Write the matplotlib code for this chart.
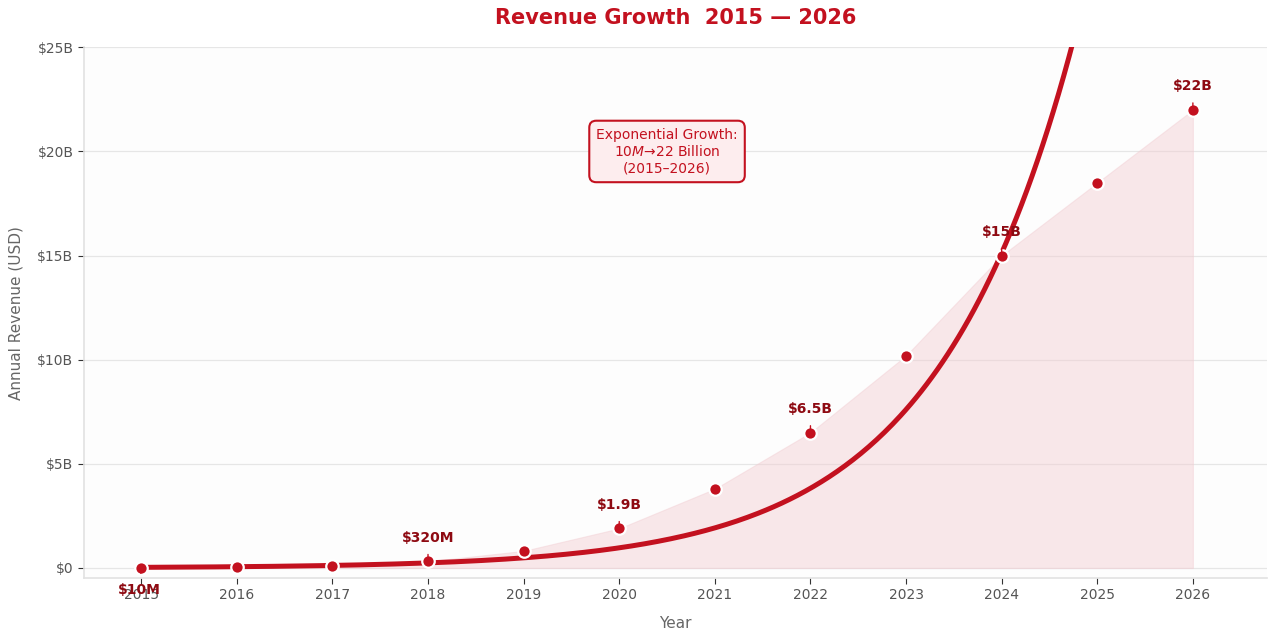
import numpy as np
import matplotlib
matplotlib.use("Agg")
import matplotlib.pyplot as plt

# 數據 (單位: 十億美元)
years = [2015, 2016, 2017, 2018, 2019, 2020, 2021, 2022, 2023, 2024, 2025, 2026]
revenue_b = [0.01, 0.05, 0.11, 0.32, 0.82, 1.9, 3.8, 6.5, 10.2, 15.0, 18.5, 22.0]
label_years = [2015, 2018, 2020, 2022, 2024, 2026]
label_texts = ["$10M", "$320M", "$1.9B", "$6.5B", "$15B", "$22B"]
y_ticks = [0, 5, 10, 15, 20, 25]
y_tick_labels = ["$0", "$5B", "$10B", "$15B", "$20B", "$25B"]

RED = "#C3111F"
DARK_RED = "#8E0A12"
GRAY = "#666666"

plt.rcParams["font.family"] = ["DejaVu Sans"]

fig, ax = plt.subplots(figsize=(12.7, 6.31), dpi=100)
fig.subplots_adjust(left=0.066, right=0.998, top=0.925, bottom=0.084)
ax.set_facecolor("#FDFDFD")

x = np.array(years, dtype=float)
y = np.array(revenue_b)

# 面積填充
ax.fill_between(x, 0, y, color="#F2CDD2", alpha=0.45, linewidth=0.8,
                edgecolor="#F2CDD2", zorder=1)

# 指數擬合曲線 (對數線性回歸)
b, a = np.polyfit(x - years[0], np.log(y), 1)
xf = np.linspace(years[0], years[-1], 400)
yf = np.exp(a + b * (xf - years[0]))
ax.plot(xf, yf, color=RED, linewidth=3.6, solid_capstyle="round", zorder=3)

# 數據點
ax.plot(x, y, linestyle="none", marker="o", markersize=9,
        markerfacecolor=RED, markeredgecolor="white", markeredgewidth=1.6, zorder=4)

# 數值標籤
for yr, txt in zip(label_years, label_texts):
    val = revenue_b[years.index(yr)]
    offset = (-1, -16) if yr == years[0] else (0, 17)
    ax.annotate(
        txt.replace("$", r"\$"),
        xy=(yr, val),
        xytext=offset,
        textcoords="offset points",
        ha="center",
        va="center",
        fontsize=10,
        fontweight="bold",
        color=DARK_RED,
        arrowprops=dict(arrowstyle="-", color=RED, lw=1, shrinkA=5, shrinkB=6),
        zorder=5,
    )

# 說明框
ax.text(
    2020.5, 20.0,
    "Exponential Growth:\n$10M→$22 Billion\n(2015–2026)",
    ha="center", va="center", fontsize=10, color=RED,
    bbox=dict(boxstyle="round,pad=0.5", facecolor="#FDEDEE", edgecolor=RED, linewidth=1.5),
    zorder=6,
)

ax.set_xlim(2014.4, 2026.78)
ax.set_ylim(-0.48, 25)
ax.set_xticks(years)
ax.set_yticks(y_ticks)
ax.set_yticklabels(y_tick_labels)
ax.tick_params(colors="#555555", labelsize=10)
ax.tick_params(axis="both", length=4, color="#333333")

ax.grid(True, axis="y", color="#E6E6E6", linewidth=0.9)
ax.set_axisbelow(True)
for s in ["top", "right"]:
    ax.spines[s].set_visible(False)
for s in ["left", "bottom"]:
    ax.spines[s].set_color("#E2E2E2")
    ax.spines[s].set_linewidth(1.2)

ax.set_xlabel("Year", fontsize=11, color=GRAY, labelpad=10)
ax.set_ylabel("Annual Revenue (USD)", fontsize=11, color=GRAY, labelpad=10)
ax.set_title("Revenue Growth  2015 — 2026", fontsize=15, fontweight="bold", color=RED, pad=17)

plt.savefig("out.png", dpi=100)
